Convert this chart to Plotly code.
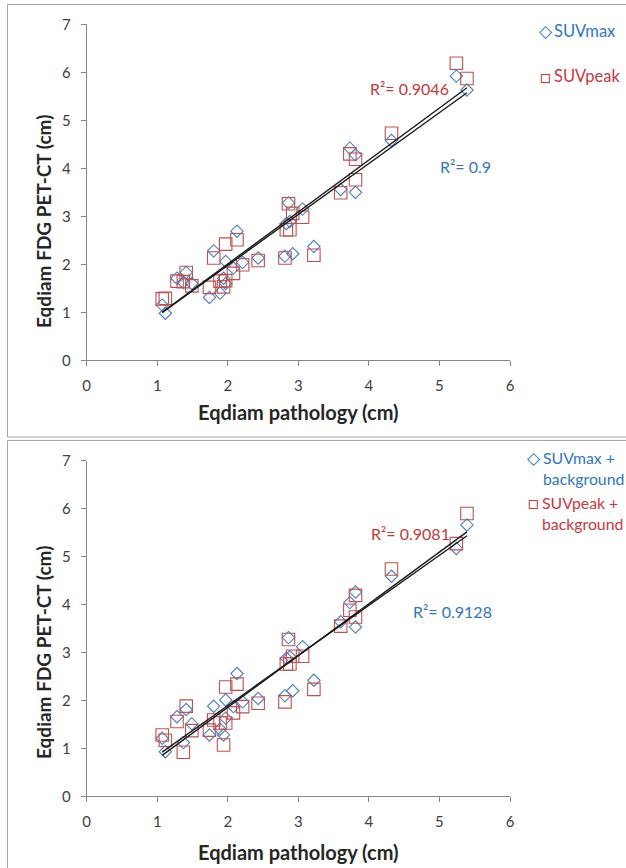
import numpy as np
import plotly.graph_objects as go

# ---------------- data ----------------
x_pathology = [1.07, 1.115, 1.28, 1.37, 1.41, 1.49, 1.74, 1.80, 1.89, 1.94,
               1.97, 1.97, 2.08, 2.13, 2.21, 2.43, 2.81, 2.92, 2.86, 2.83,
               2.88, 3.06, 3.22, 3.60, 3.73, 3.81, 3.81, 4.32, 5.24, 5.39]

suvmax = [1.15, 0.98, 1.71, 1.62, 1.83, 1.60, 1.31, 2.28, 1.40, 1.71,
          1.60, 2.06, 1.92, 2.69, 2.04, 2.13, 2.17, 2.22, 3.28, 2.85,
          2.89, 3.15, 2.37, 3.56, 4.42, 4.28, 3.50, 4.58, 5.92, 5.63]

suvpeak = [1.28, 1.29, 1.65, 1.64, 1.83, 1.55, 1.52, 2.13, 1.65, 1.53,
           1.66, 2.42, 1.81, 2.51, 1.99, 2.08, 2.13, 3.06, 3.26, 2.72,
           2.72, 2.98, 2.19, 3.49, 4.30, 4.19, 3.76, 4.73, 6.19, 5.87]

suvmax_bg = [1.21, 0.93, 1.66, 1.12, 1.81, 1.51, 1.28, 1.88, 1.40, 1.28,
             2.01, 1.63, 1.87, 2.56, 1.97, 2.04, 2.10, 2.20, 3.31, 2.88,
             2.91, 3.12, 2.42, 3.64, 4.04, 4.26, 3.53, 4.59, 5.17, 5.66]

suvpeak_bg = [1.28, 1.17, 1.56, 0.92, 1.88, 1.37, 1.38, 1.59, 1.53, 1.07,
              2.28, 1.53, 1.74, 2.34, 1.87, 1.94, 1.97, 2.92, 3.27, 2.76,
              2.76, 2.92, 2.23, 3.55, 3.88, 4.19, 3.74, 4.74, 5.27, 5.90]

r2_top = {"max": "0.9", "peak": "0.9046"}
r2_bot = {"max": "0.9128", "peak": "0.9081"}

x_ticks = [0, 1, 2, 3, 4, 5, 6]
y_ticks = [0, 1, 2, 3, 4, 5, 6, 7]

# ---------------- styling ----------------
W, H = 626, 868
BLUE_M = "#4A7EC3"
RED_M = "#C0504D"
BLUE_T = "#2D77C2"
RED_T = "#C9383D"
AXIS_C = "#868686"
TXT_C = "#404040"
FONT = "Lato, 'Open Sans', sans-serif"


def px(xp):
    return xp / W


def py(yp):
    return 1 - yp / H


fig = go.Figure()


def add_panel(ys_max, ys_peak, xa, ya):
    fig.add_trace(go.Scatter(
        x=x_pathology, y=ys_max, mode="markers", xaxis=xa, yaxis=ya,
        marker=dict(symbol="diamond-open", size=9.5, color=BLUE_M,
                    line=dict(width=1.1, color=BLUE_M)),
        showlegend=False, cliponaxis=False))
    fig.add_trace(go.Scatter(
        x=x_pathology, y=ys_peak, mode="markers", xaxis=xa, yaxis=ya,
        marker=dict(symbol="square-open", size=12.5, color=RED_M,
                    line=dict(width=1.1, color=RED_M)),
        showlegend=False, cliponaxis=False))
    xs = np.array(x_pathology)
    xl = np.array([xs.min(), xs.max()])
    for ys in (ys_max, ys_peak):
        k, b = np.polyfit(xs, np.array(ys), 1)
        fig.add_trace(go.Scatter(
            x=xl, y=k * xl + b, mode="lines", xaxis=xa, yaxis=ya,
            line=dict(color="#1a1a1a", width=1.4), showlegend=False,
            hoverinfo="skip"))


add_panel(suvmax, suvpeak, "x", "y")
add_panel(suvmax_bg, suvpeak_bg, "x2", "y2")

axis_common = dict(
    showline=True, linecolor=AXIS_C, linewidth=1, ticks="outside",
    ticklen=5, tickcolor=AXIS_C, tickwidth=1, showgrid=False,
    zeroline=False, tickfont=dict(family=FONT, size=15, color=TXT_C),
    ticklabelstandoff=7, fixedrange=True,
)

xdom = [px(86.7), px(510)]
fig.update_layout(
    width=W, height=H,
    margin=dict(l=0, r=0, t=0, b=0, autoexpand=False),
    paper_bgcolor="white", plot_bgcolor="white",
    xaxis=dict(domain=xdom, range=[0, 6], tickvals=x_ticks, anchor="y",
               **axis_common),
    yaxis=dict(domain=[py(360.3), py(24.3)], range=[0, 7], tickvals=y_ticks,
               anchor="x", **axis_common),
    xaxis2=dict(domain=xdom, range=[0, 6], tickvals=x_ticks, anchor="y2",
                **axis_common),
    yaxis2=dict(domain=[py(796.3), py(460.7)], range=[0, 7],
                tickvals=y_ticks, anchor="x2", **axis_common),
    showlegend=False,
)

# chart area borders
BORDER = "#A6A6A6"
fig.add_shape(type="rect", xref="paper", yref="paper",
              x0=px(7.5), x1=px(640), y0=py(437), y1=py(4.5),
              line=dict(color=BORDER, width=1), layer="below")
fig.add_shape(type="rect", xref="paper", yref="paper",
              x0=px(7.5), x1=px(640), y0=py(880), y1=py(440.5),
              line=dict(color=BORDER, width=1), layer="below")

ann = []


def text(xp, yp, s, color, size=16, bold=False, xanchor="left", angle=0):
    ann.append(dict(
        x=px(xp), y=py(yp), xref="paper", yref="paper", text=s,
        showarrow=False, xanchor=xanchor, yanchor="middle", textangle=angle,
        font=dict(family=FONT, size=size, color=color,
                  weight="bold" if bold else "normal")))


# axis titles
for (ty, yy) in ((412, 222), (852, 653)):
    text(298.5, ty, "Eqdiam pathology (cm)", "#262626", size=20, bold=True,
         xanchor="center")
    text(43, yy, "Eqdiam FDG PET-CT (cm)", "#262626", size=19, bold=True,
         xanchor="center", angle=-90)

# R² labels
text(409, 88, "R²= " + r2_top["peak"], RED_T, xanchor="center")
text(465, 167, "R²= " + r2_top["max"], BLUE_T, xanchor="center")
text(410, 533, "R²= " + r2_bot["peak"], RED_T, xanchor="center")
text(452, 611, "R²= " + r2_bot["max"], BLUE_T, xanchor="center")

# legends
LS = 16.5
text(546, 31, "◇", BLUE_T, size=17, xanchor="center")
text(552, 31, "SUVmax", BLUE_T, size=LS)
text(545, 76, "□", RED_T, size=18, xanchor="center")
text(552, 76, "SUVpeak", RED_T, size=LS)

LB = 15.8
text(534, 457, "◇", BLUE_T, size=17, xanchor="center")
text(541, 457, "SUVmax +", BLUE_T, size=LB)
text(541, 478, "background", BLUE_T, size=LB)
text(533, 502, "□", RED_T, size=18, xanchor="center")
text(540, 502, "SUVpeak +", RED_T, size=LB)
text(540, 523, "background", RED_T, size=LB)

fig.update_layout(annotations=ann)

fig.write_html(
    "out.html",
    config={"displayModeBar": False},
    post_script="document.body.style.margin='0';"
                "document.body.style.overflow='hidden';",
)
